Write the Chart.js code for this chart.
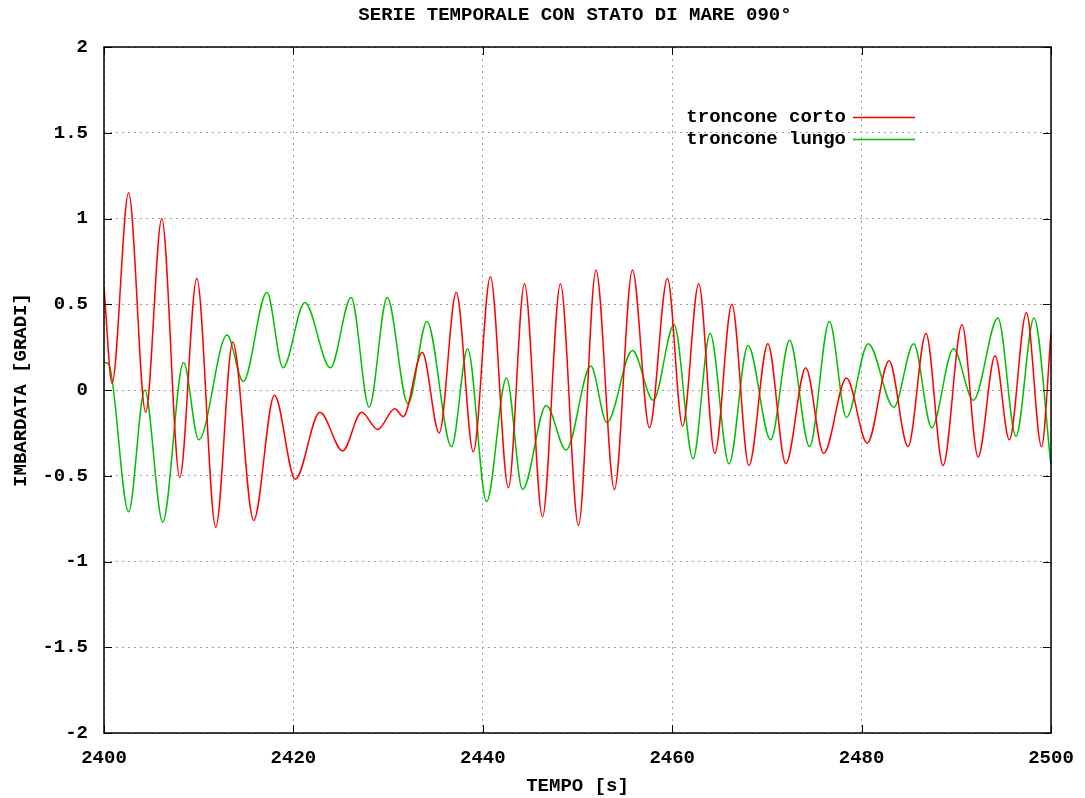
<!DOCTYPE html>
<html>
<head>
<meta charset="utf-8">
<script src="https://cdn.jsdelivr.net/npm/chart.js@4"></script>
<style>
  html, body { margin: 0; padding: 0; background: #fff; }
  #wrap { width: 1085px; height: 798px; }
</style>
</head>
<body>
<div id="wrap"><canvas id="seaChart" width="1085" height="798"></canvas></div>
<script>
// tempo [s] e imbardata [gradi] letti ai massimi/minimi della curva
var tCorto = [2400, 2400.85, 2402.6, 2404.4, 2406.1, 2408.0, 2409.8, 2411.8, 2413.6, 2415.8, 2418.0,
    2420.2, 2422.8, 2425.2, 2427.2, 2428.9, 2430.7, 2431.6, 2433.6, 2435.4, 2437.2, 2439.0,
    2440.8, 2442.7, 2444.4, 2446.3, 2448.2, 2450.1, 2451.95, 2453.9, 2455.8, 2457.6,
    2459.5, 2461.1, 2462.8, 2464.5, 2466.3, 2468.1, 2470.1, 2472.0, 2474.1, 2476.0,
    2478.4, 2480.6, 2482.9, 2484.9, 2486.8, 2488.6, 2490.6, 2492.3, 2494.1, 2495.6, 2497.4, 2499.0, 2500];
var yCorto = [0.6, 0.04, 1.15, -0.13, 1.0, -0.51, 0.65, -0.8, 0.28, -0.76, -0.03,
    -0.52, -0.13, -0.355, -0.13, -0.23, -0.11, -0.155, 0.22, -0.25, 0.57, -0.36,
    0.66, -0.57, 0.62, -0.74, 0.62, -0.79, 0.7, -0.58, 0.7, -0.22,
    0.65, -0.21, 0.62, -0.37, 0.5, -0.44, 0.27, -0.43, 0.13, -0.37,
    0.07, -0.31, 0.17, -0.33, 0.33, -0.44, 0.38, -0.39, 0.2, -0.29, 0.45, -0.33, 0.33];

var tLungo = [2400, 2400.5, 2402.6, 2404.3, 2406.2, 2408.4, 2410.0, 2413.0, 2414.7, 2417.2, 2418.9,
    2421.2, 2423.9, 2426.1, 2428.0, 2429.9, 2432.1, 2434.1, 2436.7, 2438.4,
    2440.4, 2442.5, 2444.2, 2446.7, 2448.8, 2451.4, 2453.1, 2455.8, 2458.0,
    2460.2, 2462.2, 2464.0, 2466.0, 2468.0, 2470.4, 2472.4, 2474.5, 2476.6,
    2478.4, 2480.7, 2483.4, 2485.5, 2487.4, 2489.7, 2491.8, 2494.4, 2496.3, 2498.2, 2500];
var yLungo = [0.16, 0.15, -0.71, 0.0, -0.77, 0.16, -0.29, 0.32, 0.05, 0.57, 0.13,
    0.51, 0.13, 0.54, -0.1, 0.54, -0.08, 0.4, -0.33, 0.24,
    -0.65, 0.07, -0.58, -0.09, -0.35, 0.14, -0.19, 0.23, -0.06,
    0.38, -0.4, 0.33, -0.43, 0.26, -0.29, 0.29, -0.33, 0.4,
    -0.16, 0.27, -0.1, 0.27, -0.22, 0.24, -0.06, 0.42, -0.27, 0.42, -0.44];

var xTicks = [2400, 2420, 2440, 2460, 2480, 2500];
var yTicks = [-2, -1.5, -1, -0.5, 0, 0.5, 1, 1.5, 2];

function toPoints(ts, ys) {
    return ts.map(function (t, i) { return { x: t, y: ys[i] }; });
}

var monoFont = '"Liberation Mono", "DejaVu Sans Mono", monospace';
var fontSize = 19;

// tacche interne su tutti i lati, bordo nero, titolo e legenda stile gnuplot
var gnuplotLook = {
    id: 'gnuplotLook',
    afterDraw: function (chart) {
        var ctx = chart.ctx, a = chart.chartArea;
        var xs = chart.scales.x, ys = chart.scales.y;
        ctx.save();
        ctx.strokeStyle = '#000';
        ctx.lineWidth = 1;
        ctx.beginPath();
        xTicks.forEach(function (v) {
            var px = Math.round(xs.getPixelForValue(v)) + 0.5;
            ctx.moveTo(px, a.bottom); ctx.lineTo(px, a.bottom - 8);
            ctx.moveTo(px, a.top); ctx.lineTo(px, a.top + 8);
        });
        yTicks.forEach(function (v) {
            var py = Math.round(ys.getPixelForValue(v)) + 0.5;
            ctx.moveTo(a.left, py); ctx.lineTo(a.left + 8, py);
            ctx.moveTo(a.right, py); ctx.lineTo(a.right - 8, py);
        });
        ctx.stroke();
        ctx.lineWidth = 1.5;
        ctx.strokeRect(a.left, a.top, a.right - a.left, a.bottom - a.top);

        ctx.fillStyle = '#000';
        ctx.font = 'bold ' + fontSize + 'px ' + monoFont;
        ctx.textAlign = 'center';
        ctx.textBaseline = 'middle';
        ctx.fillText('SERIE TEMPORALE CON STATO DI MARE 090°', 575, 15);

        ctx.textAlign = 'right';
        var ds = chart.data.datasets;
        var rows = [117, 139];
        ds.forEach(function (d, i) {
            ctx.fillStyle = '#000';
            ctx.fillText(d.label, 846, rows[i]);
            ctx.strokeStyle = d.borderColor;
            ctx.lineWidth = 1.5;
            ctx.beginPath();
            ctx.moveTo(853, rows[i] + 0.5);
            ctx.lineTo(915, rows[i] + 0.5);
            ctx.stroke();
        });
        ctx.restore();
    }
};

document.addEventListener('DOMContentLoaded', function () {
    var ctx = document.getElementById('seaChart').getContext('2d');
    var seaChart = new Chart(ctx, {
        type: 'line',
        data: {
            datasets: [{
                label: 'troncone corto',
                data: toPoints(tCorto, yCorto),
                borderColor: '#ff0000',
                borderWidth: 1.5,
                pointRadius: 0,
                cubicInterpolationMode: 'monotone'
            }, {
                label: 'troncone lungo',
                data: toPoints(tLungo, yLungo),
                borderColor: '#00c000',
                borderWidth: 1.5,
                pointRadius: 0,
                cubicInterpolationMode: 'monotone'
            }]
        },
        options: {
            responsive: false,
            animation: false,
            layout: { padding: { top: 47, right: 34, left: 0, bottom: 0 } },
            plugins: {
                legend: { display: false },
                title: { display: false },
                tooltip: { enabled: false }
            },
            scales: {
                x: {
                    type: 'linear',
                    min: 2400,
                    max: 2500,
                    afterFit: function (s) { s.height = 65; s.paddingRight = 0; s.paddingLeft = 0; },
                    afterBuildTicks: function (s) { s.ticks = xTicks.map(function (v) { return { value: v }; }); },
                    grid: { color: '#a0a0a0', borderDash: [2, 4], drawTicks: false },
                    border: { display: false, dash: [2, 4] },
                    ticks: {
                        color: '#000',
                        padding: 14,
                        maxRotation: 0,
                        callback: function (v) { return String(v); },
                        font: { family: monoFont, size: fontSize, weight: 'bold' }
                    },
                    title: {
                        display: true,
                        text: 'TEMPO [s]',
                        color: '#000',
                        padding: { top: 6, bottom: 0 },
                        font: { family: monoFont, size: fontSize, weight: 'bold' }
                    }
                },
                y: {
                    min: -2,
                    max: 2,
                    afterFit: function (s) { s.width = 104; },
                    afterBuildTicks: function (s) { s.ticks = yTicks.map(function (v) { return { value: v }; }); },
                    grid: { color: '#a0a0a0', borderDash: [2, 4], drawTicks: false },
                    border: { display: false, dash: [2, 4] },
                    ticks: {
                        color: '#000',
                        padding: 16,
                        callback: function (v) { return String(v); },
                        font: { family: monoFont, size: fontSize, weight: 'bold' }
                    },
                    title: {
                        display: true,
                        text: 'IMBARDATA [GRADI]',
                        color: '#000',
                        padding: { top: 10, bottom: 0 },
                        font: { family: monoFont, size: fontSize, weight: 'bold' }
                    }
                }
            }
        },
        plugins: [gnuplotLook]
    });
});
</script>
</body>
</html>
